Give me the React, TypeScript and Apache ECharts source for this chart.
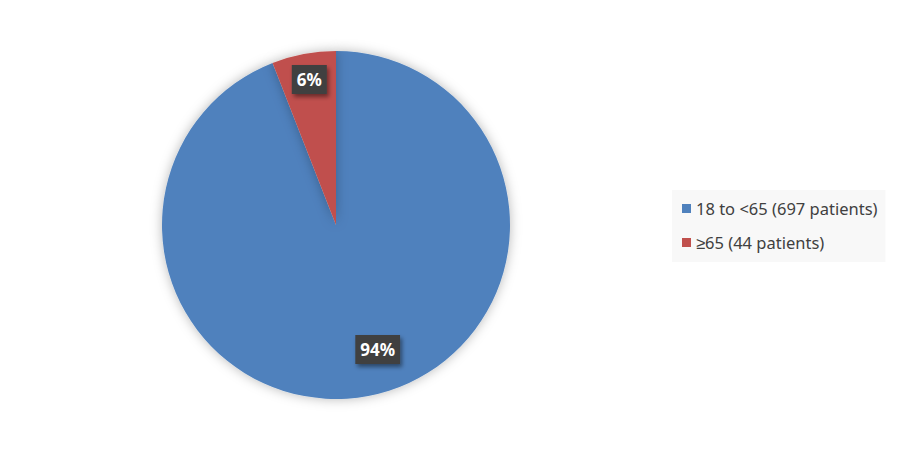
import React, { useEffect, useRef } from 'react';
import * as echarts from 'echarts';

const categories = ['18 to <65 (697 patients)', '≥65 (44 patients)'];
const patients = [697, 44];
const sliceColors = ['#4f81bd', '#c0504d'];
// nudge the in-slice labels to where the reference puts them
const labelOffsets = [
  [25, 36],
  [-10, -57],
];

const App: React.FC = () => {
  const chartRef = useRef<HTMLDivElement>(null);

  useEffect(() => {
    if (!chartRef.current) return;
    const chart = echarts.init(chartRef.current, undefined, { renderer: 'svg' });
    const total = patients.reduce((a, b) => a + b, 0);

    const option: echarts.EChartsOption = {
      animation: false,
      backgroundColor: '#ffffff',
      legend: {
        orient: 'vertical',
        left: 672,
        top: 190,
        backgroundColor: '#f8f8f8',
        padding: [10, 8, 11, 10],
        itemGap: 17,
        itemWidth: 9,
        itemHeight: 9,
        icon: 'rect',
        textStyle: {
          fontFamily: '"Noto Sans", sans-serif',
          fontSize: 16.5,
          color: '#404040',
        },
        data: categories,
      },
      series: [
        {
          type: 'pie',
          center: [336, 225],
          radius: 174,
          startAngle: 90,
          clockwise: true,
          avoidLabelOverlap: false,
          itemStyle: {
            shadowBlur: 12,
            shadowColor: 'rgba(0,0,0,0.28)',
          },
          emphasis: { disabled: true },
          label: {
            show: true,
            position: 'inside',
            formatter: (p: any) => `${Math.round((p.value / total) * 100)}%`,
            color: '#ffffff',
            fontFamily: '"Noto Sans", sans-serif',
            fontWeight: 'bold',
            fontSize: 17,
            backgroundColor: '#404040',
            padding: [6, 5, 6, 5],
            shadowColor: 'rgba(0,0,0,0.45)',
            shadowBlur: 4,
            shadowOffsetX: 2,
            shadowOffsetY: 3,
          },
          labelLine: { show: false },
          data: categories.map((name, i) => ({
            name,
            value: patients[i],
            itemStyle: { color: sliceColors[i] },
            label: { offset: labelOffsets[i] },
          })),
        },
      ],
    };

    chart.setOption(option);
    return () => chart.dispose();
  }, []);

  return (
    <div
      ref={chartRef}
      style={{ position: 'absolute', left: 0, top: 0, width: 900, height: 450 }}
    />
  );
};

export default App;
